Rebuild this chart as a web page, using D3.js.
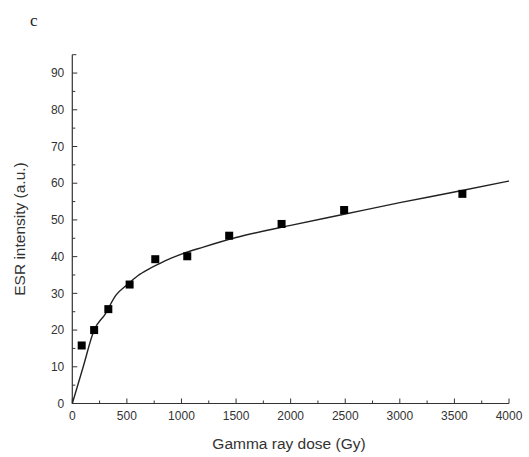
<!DOCTYPE html>
<html><head><meta charset="utf-8">
<script src="https://cdn.jsdelivr.net/npm/d3@7"></script>
<style>body{margin:0;background:#fff}</style>
</head><body>
<svg id="c" width="529" height="457"></svg>
<script>
// Measured data points
const doses = [86, 200, 330, 525, 760, 1053, 1437, 1917, 2490, 3573];
const intensities = [15.8, 20.0, 25.7, 32.4, 39.3, 40.1, 45.7, 48.9, 52.7, 57.1];
// Fitted curve
const curveDose = [0, 100, 200, 300, 400, 500, 600, 700, 800, 900, 1000, 1200, 1500, 2000, 2500, 3000, 3500, 4000];
const curveVal  = [0, 10, 20, 24.3, 29.5, 32.3, 34.8, 36.6, 38.1, 39.5, 40.7, 42.6, 45.2, 48.5, 51.6, 54.7, 57.6, 60.6];
const xTicks = [0, 500, 1000, 1500, 2000, 2500, 3000, 3500, 4000];
const yTicks = [0, 10, 20, 30, 40, 50, 60, 70, 80, 90];

const svg = d3.select("#c");
const x = d3.scaleLinear().domain([0, 4000]).range([72.3, 509]);
const y = d3.scaleLinear().domain([0, 95]).range([403.5, 54.7]);
const font = "'Liberation Sans', Arial, sans-serif";
const axCol = "#333";

// y axis
const ya = svg.append("g").attr("transform", `translate(${x(0)},0)`);
ya.append("line").attr("y1", y(0)).attr("y2", y(95)).attr("stroke", axCol).attr("stroke-width", 1.2);
d3.range(0, 95, 5).forEach(v => {
  const major = v % 10 === 0;
  ya.append("line").attr("x1", 0).attr("x2", major ? 5 : 3).attr("y1", y(v)).attr("y2", y(v))
    .attr("stroke", axCol).attr("stroke-width", 1);
});
yTicks.forEach(v => {
  ya.append("text").attr("x", -8).attr("y", y(v)).attr("dy", "0.35em").attr("text-anchor", "end")
    .attr("font-family", font).attr("font-size", 12).attr("fill", "#333").text(v);
});
ya.append("line").attr("x1", 0).attr("x2", 4).attr("y1", y(95)).attr("y2", y(95)).attr("stroke", axCol);

// x axis
const xa = svg.append("g").attr("transform", `translate(0,${y(0)})`);
xa.append("line").attr("x1", x(0)).attr("x2", x(4000)).attr("stroke", axCol).attr("stroke-width", 1.2);
d3.range(0, 4001, 250).forEach(v => {
  const major = v % 500 === 0;
  xa.append("line").attr("x1", x(v)).attr("x2", x(v)).attr("y1", 0).attr("y2", major ? -5 : -3)
    .attr("stroke", axCol).attr("stroke-width", 1);
});
xTicks.forEach(v => {
  xa.append("text").attr("x", x(v)).attr("y", 16).attr("text-anchor", "middle")
    .attr("font-family", font).attr("font-size", 12).attr("fill", "#333").text(v);
});

// axis titles
svg.append("text").attr("x", 289).attr("y", 449).attr("text-anchor", "middle")
  .attr("font-family", font).attr("font-size", 15.5).attr("fill", "#333").text("Gamma ray dose (Gy)");
svg.append("text").attr("transform", `translate(25,229) rotate(-90)`).attr("text-anchor", "middle")
  .attr("font-family", font).attr("font-size", 15.5).attr("fill", "#333").text("ESR intensity (a.u.)");

// panel label
svg.append("text").attr("x", 30).attr("y", 26).attr("font-family", "'Liberation Serif', 'Times New Roman', serif")
  .attr("font-size", 17).attr("fill", "#222").text("c");

// curve
const line = d3.line().x(d => x(d[0])).y(d => y(d[1])).curve(d3.curveMonotoneX);
svg.append("path").datum(curveDose.map((d, i) => [d, curveVal[i]]))
  .attr("d", line).attr("fill", "none").attr("stroke", "#222").attr("stroke-width", 1.4);

// points
const s = 8;
svg.append("g").selectAll("rect").data(doses.map((d, i) => [d, intensities[i]])).join("rect")
  .attr("x", d => x(d[0]) - s / 2).attr("y", d => y(d[1]) - s / 2)
  .attr("width", s).attr("height", s).attr("fill", "#000");
</script>
</body></html>
